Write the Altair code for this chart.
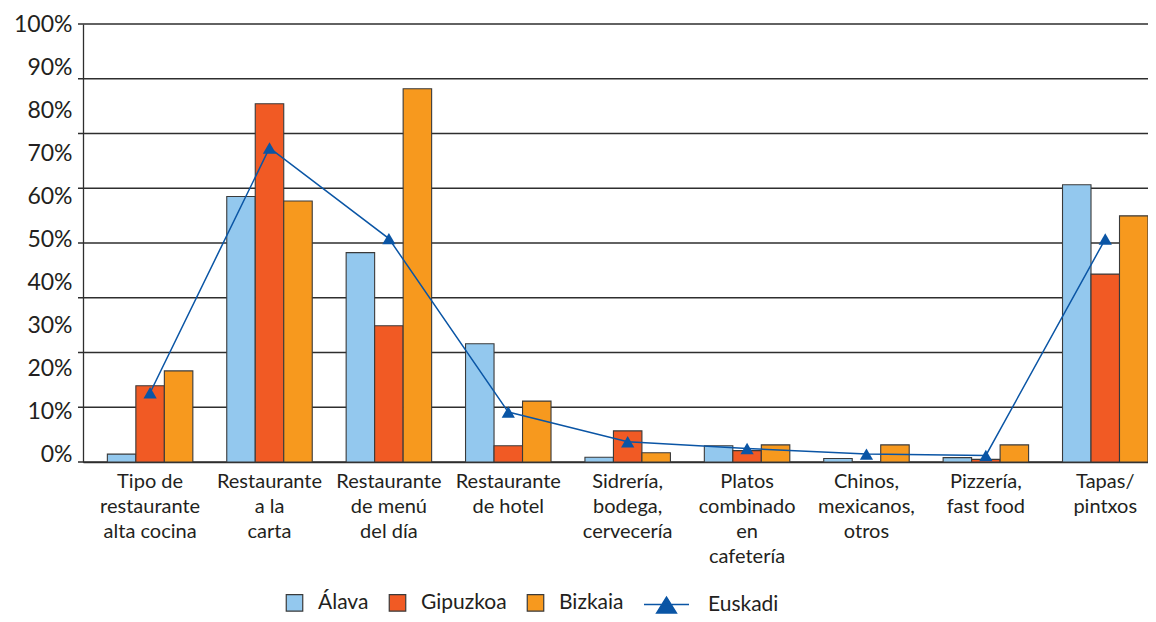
import altair as alt
import pandas as pd

categories = [
    "Tipo de\nrestaurante\nalta cocina",
    "Restaurante\na la\ncarta",
    "Restaurante\nde menú\ndel día",
    "Restaurante\nde hotel",
    "Sidrería,\nbodega,\ncervecería",
    "Platos\ncombinado\nen\ncafetería",
    "Chinos,\nmexicanos,\notros",
    "Pizzería,\nfast food",
    "Tapas/\npintxos",
]
provinces = ["Álava", "Gipuzkoa", "Bizkaia"]
alava = [1.8, 60.6, 47.8, 27.0, 1.1, 3.7, 0.8, 1.0, 63.3]
gipuzkoa = [17.4, 81.8, 31.1, 3.7, 7.1, 2.6, 0.0, 0.6, 42.9]
bizkaia = [20.8, 59.6, 85.2, 13.9, 2.1, 3.9, 3.9, 3.9, 56.2]
euskadi = [15.8, 71.7, 51.0, 11.4, 4.6, 3.1, 1.8, 1.5, 50.9]
y_label_values = [0, 10, 20, 30, 40, 50, 60, 70, 80, 90, 100]
grid_values = [0, 12.5, 25, 37.5, 50, 62.5, 75, 87.5, 100]

colors = ["#93c8ee", "#f15a24", "#f7991e"]
blue = "#0a55a5"
dark = "#2e2e2e"
text_color = "#231f20"
FONT = "Lato"

W, H = 1065, 438

rows = []
for name, vals in zip(provinces, [alava, gipuzkoa, bizkaia]):
    for c, v in zip(categories, vals):
        rows.append({"cat": c, "prov": name, "val": v})
bars_df = pd.DataFrame(rows)
eus_df = pd.DataFrame({"cat": categories, "val": euskadi, "serie": "Euskadi"})
grid_df = pd.DataFrame({"g": grid_values})
lab_df = pd.DataFrame({"v": y_label_values})

x_enc = alt.X(
    "cat:N",
    sort=categories,
    scale=alt.Scale(paddingInner=0.284, paddingOuter=0.102, align=1),
    axis=alt.Axis(
        title=None, ticks=False, labelAngle=0,
        labelExpr="split(datum.label, '\\n')",
        labelFont=FONT, labelFontSize=20, labelLineHeight=25,
        labelPadding=9, labelColor=text_color, labelLimit=300,
        labelOverlap=False, domainColor=dark, domainWidth=1.3,
    ),
)
yscale = alt.Scale(domain=[0, 100], nice=False, zero=True)

labels_layer = alt.Chart(lab_df).mark_point(opacity=0).encode(
    y=alt.Y(
        "v:Q",
        scale=alt.Scale(domain=[-1.86, 100], nice=False, zero=False),
        axis=alt.Axis(
            values=y_label_values, labelExpr="datum.value + '%'",
            ticks=False, grid=False, title=None,
            labelFont=FONT, labelFontSize=23, labelColor=text_color,
            labelPadding=11, domainColor=dark, domainWidth=1.3,
        ),
    )
)

grid = alt.Chart(grid_df).mark_rule(color=dark, strokeWidth=1.3).encode(
    y=alt.Y("g:Q", scale=yscale, axis=None),
    x=alt.value(-5),
    x2=alt.value(W),
)

bars = alt.Chart(bars_df).mark_bar(stroke="#3a3a3a", strokeWidth=1.1).encode(
    x=x_enc,
    xOffset=alt.XOffset("prov:N", sort=provinces,
                        scale=alt.Scale(paddingInner=0, paddingOuter=0)),
    y=alt.Y("val:Q", scale=yscale, axis=None),
    color=alt.Color(
        "prov:N",
        sort=provinces,
        scale=alt.Scale(domain=provinces, range=colors),
        legend=alt.Legend(
            orient="none", legendX=201, legendY=568, direction="horizontal",
            title=None, symbolType="square", symbolSize=272,
            symbolStrokeColor="#3a3a3a", symbolStrokeWidth=1.2,
            symbolOpacity=1,
            labelFont=FONT, labelFontSize=21, labelColor=text_color,
            labelOffset=13, columnPadding=17, padding=0,
        ),
    ),
)

line = alt.Chart(eus_df).mark_line(strokeWidth=1.5).encode(
    x=alt.X("cat:N", sort=categories),
    y=alt.Y("val:Q", scale=yscale, axis=None),
    stroke=alt.Stroke(
        "serie:N",
        scale=alt.Scale(domain=["Euskadi"], range=[blue]),
        legend=alt.Legend(
            orient="none", legendX=560, legendY=557, title=None,
            symbolType="M-1,0H1M-0.44,0.38L0,-0.33L0.44,0.38Z",
            symbolSize=2025, symbolStrokeWidth=1.5,
            symbolFillColor=blue, symbolStrokeColor=blue,
            labelFont=FONT, labelFontSize=21, labelColor=text_color,
            labelOffset=18, padding=0,
        ),
    ),
)

pts = alt.Chart(eus_df).mark_point(
    shape="triangle-up", filled=True, size=175, color=blue, opacity=1
).encode(
    x=alt.X("cat:N", sort=categories),
    y=alt.Y("val:Q", scale=yscale, axis=None),
)

chart = (
    alt.layer(labels_layer, alt.layer(grid, bars, line, pts))
    .resolve_scale(y="independent")
    .properties(
        width=W, height=H,
        padding={"left": 75, "top": 16, "right": 0, "bottom": 152},
        autosize=alt.AutoSizeParams(type="none"),
        background="white",
    )
    .configure_view(stroke=None)
)

chart.save("out.html", embed_options={"renderer": "svg", "actions": False})
